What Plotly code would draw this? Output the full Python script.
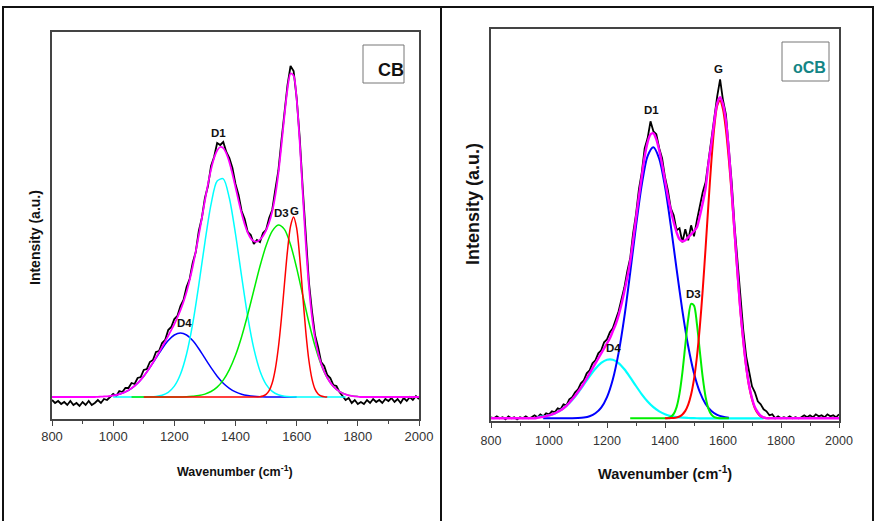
import plotly.graph_objects as go

# ---------------- LEFT PANEL (CB) ----------------
cb_x = list(range(800, 2001, 10))
cb_measured = [-3, -6, -4, -7, -5, -8, -4, -8, -6, -9, -5, -8, -4, -8, -6, -3, -6, -2, -3, 0,
               3, 1, 6, 5, 9, 9, 14, 13, 19, 20,
               27, 28, 35, 37, 45, 46, 54, 57, 67, 70,
               78, 81, 91, 97, 110, 118, 134, 145, 166, 179,
               199, 211, 231, 240, 254, 252, 255, 245, 239, 229,
               213, 202, 186, 178, 165, 162, 153, 157, 155, 164,
               167, 179, 187, 207, 226, 256, 283, 312, 331, 326,
               299, 259, 208, 159, 115, 86, 62, 50, 35, 31,
               22, 19, 12, 11, 5, 1, -3, -1, -6, -3,
               -7, -5, -7, -3, -6, -2, -5, -3, -6, -2,
               -4, -1, -5, -2, -6, -1, -4, 0, -3, 1,
               -2]
cb_fit = [0, 0, 0, 0, 0, 0, 0, 0, 0, 0, 0, 0, 0, 0, 0,
          0.2, 0.3, 0.5, 0.7, 1.0,
          1.5, 2.0, 2.8, 3.8, 5.1, 6.7, 8.7, 11.0, 13.8, 17.1,
          20.9, 25.1, 29.6, 34.5, 39.5, 44.7, 50.1, 55.5, 61.2, 66.9,
          72.9, 79.5, 86.8, 95.3, 105.0, 116.9, 130.3, 145.5, 161.8, 179.0,
          196.4, 212.9, 227.4, 239.0, 246.6, 250.0, 248.9, 243.6, 234.8, 223.0,
          209.8, 196.3, 183.7, 172.8, 164.3, 158.6, 155.8, 155.4, 157.4, 161.1,
          166.7, 174.5, 185.4, 201.3, 223.1, 251.0, 281.1, 307.9, 323.5, 321.3,
          297.7, 254.8, 202.9, 152.6, 111.0, 80.3, 58.8, 44.0, 33.4, 25.5,
          19.2, 14.4, 10.6, 7.7, 5.5, 3.8, 2.6, 1.7, 1.1, 0.7,
          0.4, 0, 0, 0, 0, 0, 0, 0, 0, 0, 0, 0, 0, 0, 0, 0, 0, 0, 0, 0, 0]

cb_d4_x = list(range(1000, 1601, 20))
cb_d4 = [1.5, 2.8, 5.1, 8.7, 13.8, 20.8, 29.3, 38.8, 48.3, 56.5,
         62.0, 64.0, 62.0, 56.5, 48.3, 38.8, 29.3, 20.8, 13.8, 8.7,
         5.1, 2.8, 1.5, 0.7, 0.3, 0.1, 0, 0, 0, 0, 0]
cb_d1_x = list(range(1000, 1761, 20))
cb_d1 = [0, 0, 0, 0, 0, 0.1, 0.2, 0.6, 1.8, 4.7,
         10.9, 22.8, 43.0, 73.1, 112.1, 154.7, 192.6, 215.9, 218.2, 198.7,
         163.0, 120.6, 80.3, 48.3, 26.1, 12.7, 5.6, 2.2, 0.8, 0.3,
         0.1, 0, 0, 0, 0, 0, 0, 0, 0]
cb_d3_x = list(range(1060, 1801, 20))
cb_d3 = [0, 0, 0, 0, 0, 0, 0, 0, 0.1, 0.2,
         0.7, 1.4, 2.9, 5.5, 9.9, 16.9, 27.4, 41.7, 60.3, 82.5,
         106.8, 130.7, 151.3, 165.8, 171.9, 167.6, 152.3, 128.9, 101.5, 74.5,
         50.9, 32.4, 19.2, 10.6, 5.5, 2.6, 1.1, 0.4]
cb_g_x = list(range(1100, 1480, 20)) + list(range(1480, 1701, 10))
cb_g = [0] * 19 + [0.3, 1.0, 2.7, 6.4, 14.0, 27.7, 49.0, 78.3, 112.7, 146.2, 170.9,
                   180.0, 168.8, 139.5, 101.4, 64.8, 36.5, 18.2, 7.9, 3.0, 1.0, 0.3, 0]

# ---------------- RIGHT PANEL (oCB) ----------------
ocb_x = list(range(800, 2001, 10))
ocb_measured = [1, 0, 2, 0, 1, -1, 2, 0, 1, -1, 1, 0, 2, 0, 1, 3, 1, 4, 2, 5,
                4, 7, 6, 10, 9, 14, 13, 19, 21, 26,
                29, 35, 38, 45, 48, 55, 58, 65, 68, 76,
                79, 86, 90, 99, 107, 119, 131, 147, 160, 185,
                204, 229, 246, 270, 280, 297, 287, 284, 270, 260,
                241, 228, 210, 203, 188, 190, 176, 189, 178, 193,
                182, 198, 212, 226, 236, 258, 280, 303, 322, 339,
                318, 304, 272, 236, 192, 156, 118, 88, 62, 45,
                32, 26, 17, 14, 9, 7, 3, 4, 0, 2,
                0, 1, 0, 2, 0, 1, 0, 1, 3, 1,
                3, 1, 4, 2, 3, 1, 4, 2, 3, 1,
                4]
ocb_fit = [0, 0, 0, 0, 0, 0, 0, 0, 0, 0, 0, 0, 0, 0, 0, 0,
           0.5, 1, 1.5, 2.2,
           3, 4, 5, 6.5, 8, 10, 12.5, 15.5, 19, 22.5,
           26.5, 30.5, 35, 40, 45, 50, 55, 60, 65, 70,
           75, 80, 87, 94, 103, 114, 127, 141, 157, 178,
           200, 222, 242, 262, 276, 284, 285, 279, 268, 254,
           238, 222, 208, 196, 186, 179, 177, 178, 181, 184,
           187, 191, 202, 215, 230, 255, 275, 297, 315, 321,
           314, 298, 268, 228, 186, 146, 108, 78, 52, 33,
           20, 11, 6, 2.5, 1, 0, 0, 0, 0, 0,
           0, 0, 0, 0, 0, 0, 0, 0, 0, 0, 0, 0, 0, 0, 0, 0, 0, 0, 0, 0, 0]

ocb_d4_x = list(range(960, 1741, 20))
ocb_d4 = [1.2, 1.9, 2.8, 4.9, 8.0, 12.4, 18.3, 25.5, 33.7, 42.0,
          49.6, 55.4, 58.6, 58.6, 55.2, 49.0, 41.0, 32.3, 24.0, 16.8,
          11.1, 6.9, 4.0, 2.2, 1.2, 0.6, 0.3, 0.1, 0, 0,
          0, 0, 0, 0, 0, 0, 0, 0, 0, 0]
ocb_d1_x = list(range(980, 1621, 20))
ocb_d1 = [0, 0, 0, 0, 0, 0.1, 0.3, 0.8, 2.1, 5.0,
          10.7, 21.2, 38.8, 65.4, 101.7, 145.7, 192.2, 233.8, 262.2, 271.0,
          259.6, 231.6, 192.6, 149.1, 107.5, 72.1, 45.1, 26.3, 14.3, 7.2,
          3.4, 1.5, 0.6]
ocb_d3_x = list(range(1280, 1621, 10))
ocb_d3 = [0] * 12 + [0.1, 0.4, 1.4, 4.4, 11.2, 24.6, 46.0, 73.2, 99.2, 114.5,
                     112.7, 94.5, 67.5, 41.1, 21.3, 9.4, 3.6, 1.1, 0.3, 0.1, 0, 0, 0]
ocb_g_x = list(range(1400, 1761, 10))
ocb_g = [0, 0, 0.2, 0.4, 0.8, 1.8, 3.8, 7.4, 13.6, 23.7,
         39.1, 61.3, 91.1, 128.1, 170.6, 215.2, 257.3, 291.3, 312.5, 317.7,
         309.0, 288.7, 259.2, 223.4, 184, 144, 107, 77, 51, 32,
         19, 10, 5, 2, 0.8, 0.2, 0]

tick_vals = [800, 1000, 1200, 1400, 1600, 1800, 2000]
minor_tick_vals = [900, 1100, 1300, 1500, 1700, 1900]

# peak labels: (text, x, y)
cb_labels = [("D1", 1346, 264), ("D3", 1552, 184), ("G", 1593, 186), ("D4", 1232, 74)]
ocb_labels = [("D1", 1355, 308), ("G", 1583, 349), ("D3", 1497, 124), ("D4", 1221, 70)]

W, H = 875, 521
NARROW = "Liberation Sans Narrow, Arial Narrow, Liberation Sans, Arial, sans-serif"
WIDE = "Liberation Sans, Arial, sans-serif"


def px(x):
    return x / W


def py(y):
    return 1 - y / H


fig = go.Figure()


def add_line(x, y, color, width, xa, ya, shape="spline"):
    line = dict(color=color, width=width, shape=shape)
    if shape == "spline":
        line["smoothing"] = 0.8
    fig.add_trace(go.Scatter(x=x, y=y, mode="lines", line=line,
                             xaxis=xa, yaxis=ya, showlegend=False, hoverinfo="skip"))


# left traces
add_line(cb_x, cb_measured, "#000000", 1.8, "x", "y", shape="linear")
add_line(cb_d4_x, cb_d4, "#0000ff", 1.5, "x", "y")
add_line(cb_d1_x, cb_d1, "#00ffff", 1.5, "x", "y")
add_line(cb_d3_x, cb_d3, "#00ee00", 1.5, "x", "y")
add_line(cb_g_x, cb_g, "#ff0000", 1.5, "x", "y")
add_line(cb_x, cb_fit, "#ff00ff", 1.8, "x", "y")

# right traces
add_line(ocb_x, ocb_measured, "#000000", 1.8, "x2", "y2", shape="linear")
add_line(ocb_d4_x, ocb_d4, "#00ffff", 2.2, "x2", "y2")
add_line(ocb_d1_x, ocb_d1, "#0000ff", 2.0, "x2", "y2")
add_line(ocb_d3_x, ocb_d3, "#00ee00", 2.0, "x2", "y2")
add_line(ocb_g_x, ocb_g, "#ff0000", 2.0, "x2", "y2")
add_line(ocb_x, ocb_fit, "#ff00ff", 2.4, "x2", "y2")

axis_common = dict(showline=True, mirror=True, linecolor="#444444", linewidth=1.5,
                   showgrid=False, zeroline=False)

xcommon = dict(axis_common, range=[800, 2000], tickmode="array", tickvals=tick_vals,
               ticks="outside", ticklen=5, tickwidth=1.2, tickcolor="#444444",
               minor=dict(ticks="outside", ticklen=3, tickwidth=1, tickcolor="#444444",
                          tickmode="array", tickvals=minor_tick_vals))

fig.update_layout(
    width=W, height=H, margin=dict(l=0, r=0, t=0, b=0, pad=0, autoexpand=False),
    autosize=False,
    paper_bgcolor="white", plot_bgcolor="white",
    xaxis=dict(xcommon, domain=[px(52), px(419)], anchor="y",
               tickfont=dict(family=NARROW, size=13, color="#333333")),
    yaxis=dict(axis_common, domain=[py(419), py(32)], anchor="x", range=[-22, 365],
               showticklabels=False, ticks=""),
    xaxis2=dict(xcommon, domain=[px(491), px(839)], anchor="y2", ticklabelstandoff=2,
                tickfont=dict(family=NARROW, size=12.5, color="#333333")),
    yaxis2=dict(axis_common, domain=[py(421), py(29)], anchor="x2", range=[-2.7, 389.3],
                showticklabels=False, ticks=""),
)


def ann(text, x, y, size, family, color="#111111", xref="paper", yref="paper", angle=0):
    return dict(text=text, x=x, y=y, xref=xref, yref=yref, showarrow=False,
                xanchor="center", yanchor="middle", textangle=angle,
                font=dict(family=family, size=size, color=color))


annotations = []
for t, x, y in cb_labels:
    annotations.append(ann(f"<b>{t}</b>", x, y, 11.5, NARROW, xref="x", yref="y"))
for t, x, y in ocb_labels:
    annotations.append(ann(f"<b>{t}</b>", x, y, 11.5, NARROW, xref="x2", yref="y2"))

annotations += [
    ann("<b>Wavenumber (cm<sup>-1</sup>)</b>", px(235), py(471), 12.5, NARROW),
    ann("<b>Wavenumber (cm<sup>-1</sup>)</b>", px(665), py(473), 14.5, NARROW),
    ann("<b>Intensity (a.u.)</b>", px(35), py(238), 14, WIDE, angle=-90),
    ann("<b>Intensity (a.u.)</b>", px(473), py(204), 18, WIDE, angle=-90),
    ann("<b>CB</b>", px(391), py(70), 18, NARROW),
    ann("<b>oCB</b>", px(809), py(68), 16, NARROW, color="#138585"),
]
fig.update_layout(annotations=annotations)

shapes = [
    dict(type="rect", xref="paper", yref="paper", x0=px(3), x1=px(441), y0=py(530), y1=py(7),
         line=dict(color="#111111", width=2)),
    dict(type="rect", xref="paper", yref="paper", x0=px(441), x1=px(873), y0=py(530), y1=py(7),
         line=dict(color="#111111", width=2)),
    dict(type="rect", xref="paper", yref="paper", x0=px(363), x1=px(404), y0=py(83), y1=py(45),
         line=dict(color="#777777", width=1)),
    dict(type="rect", xref="paper", yref="paper", x0=px(782), x1=px(829), y0=py(81), y1=py(42),
         line=dict(color="#777777", width=1)),
]
fig.update_layout(shapes=shapes)

fig.write_html(
    "out.html",
    config={"responsive": False, "displayModeBar": False},
    post_script="document.body.style.margin='0';document.body.style.padding='0';"
                "document.body.style.overflow='hidden';",
)
